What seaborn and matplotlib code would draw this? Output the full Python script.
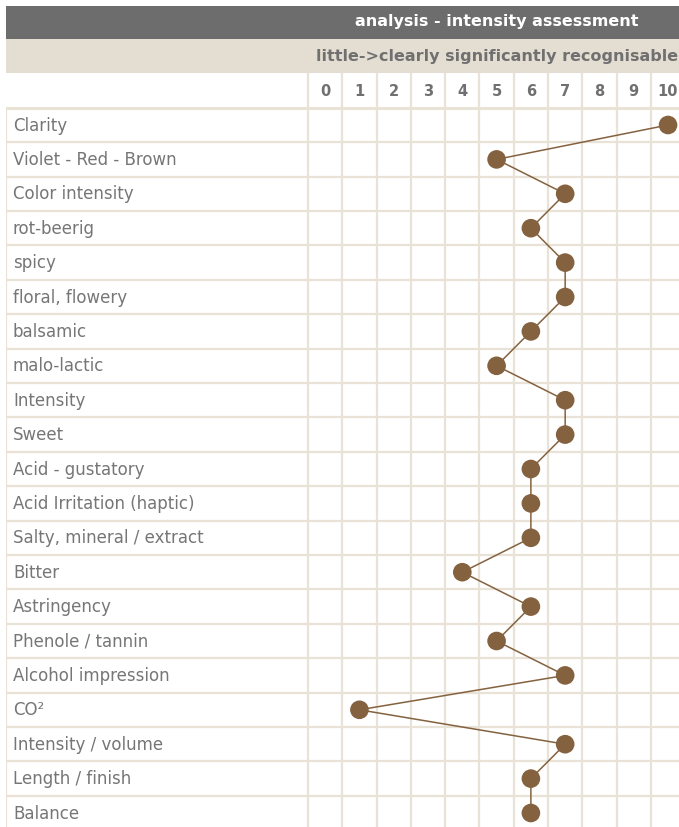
# Intensity assessment profile - table style chart
import numpy as np
import pandas as pd
import matplotlib
matplotlib.use('Agg')
import matplotlib.pyplot as plt
import seaborn as sns
from matplotlib.patches import Rectangle

attributes = ['Clarity', 'Violet - Red - Brown', 'Color intensity', 'rot-beerig',
              'spicy', 'floral, flowery', 'balsamic', 'malo-lactic', 'Intensity',
              'Sweet', 'Acid - gustatory', 'Acid Irritation (haptic)',
              'Salty, mineral / extract', 'Bitter', 'Astringency', 'Phenole / tannin',
              'Alcohol impression', 'CO²', 'Intensity / volume', 'Length / finish',
              'Balance']
scores = [10, 5, 7, 6, 7, 7, 6, 5, 7, 7, 6, 6, 6, 4, 6, 5, 7, 1, 7, 6, 6]
scale_ticks = list(range(11))
title = 'analysis - intensity assessment'
subtitle = 'little->clearly significantly recognisable'

GRID = '#e8e2d7'
DARK = '#6d6d6d'
BEIGE = '#e4ddd1'
BROWN = '#85623f'
TEXT = '#707070'
LABEL = '#767676'

df = pd.DataFrame({'attribute': attributes, 'score': scores,
                   'row': np.arange(len(attributes))})

sns.set_style('white')
plt.rcParams['font.family'] = ['DejaVu Sans']

fig = plt.figure(figsize=(6.79, 8.27), dpi=100)
ax = fig.add_axes([6 / 679, 0, 673 / 679, 821 / 827])

# pixel -> data mapping
col_w = 34.29
row_h = 34.4
x_left = (6 - 308) / col_w - 0.5
x_right = (679 - 308) / col_w - 0.5
y_top = (6 - 125) / row_h
y_bot = (827 - 125) / row_h
label_x = (13 - 308) / col_w - 0.5

ax.set_xlim(x_left, x_right)
ax.set_ylim(y_bot, y_top)
ax.axis('off')

# header bars
ax.add_patch(Rectangle((x_left, y_top), x_right - x_left, -2.5 - y_top,
                       facecolor=DARK, edgecolor='none', zorder=1))
ax.add_patch(Rectangle((x_left, -2.5), x_right - x_left, 1.0,
                       facecolor=BEIGE, edgecolor='none', zorder=1))
ax.text(5, -3.0, title, ha='center', va='center', color='white',
        fontsize=11.5, fontweight='bold', zorder=3)
ax.text(5, -1.98, subtitle, ha='center', va='center', color=TEXT,
        fontsize=11.5, fontweight='bold', zorder=3)

# scale numbers
for t in scale_ticks:
    ax.text(t, -0.98, str(t), ha='center', va='center', color=TEXT,
            fontsize=10.5, fontweight='bold', zorder=3)

# grid lines
for b in np.arange(-0.5, 10.6, 1.0):
    ax.plot([b, b], [-1.5, y_bot], color=GRID, lw=1.6, zorder=2,
            solid_capstyle='butt')
ax.plot([x_left, x_left], [-0.5, y_bot], color=GRID, lw=1.6, zorder=2)
ax.plot([x_left, x_right], [-0.5, -0.5], color=GRID, lw=2.2, zorder=2)
for b in np.arange(0.5, len(attributes), 1.0):
    ax.plot([x_left, x_right], [b, b], color=GRID, lw=1.6, zorder=2)

# attribute labels
for i, name in enumerate(attributes):
    ax.text(label_x, i + 0.02, name, ha='left', va='center', color=LABEL,
            fontsize=12, zorder=3)

# profile line and points
sns.lineplot(data=df, x='score', y='row', sort=False, estimator=None,
             color=BROWN, linewidth=1.1, ax=ax, zorder=4)
sns.scatterplot(data=df, x='score', y='row', color=BROWN, s=180,
                edgecolor='none', ax=ax, zorder=5, legend=False)

ax.set_xlim(x_left, x_right)
ax.set_ylim(y_bot, y_top)
ax.axis('off')

fig.savefig('out.png', dpi=100)
